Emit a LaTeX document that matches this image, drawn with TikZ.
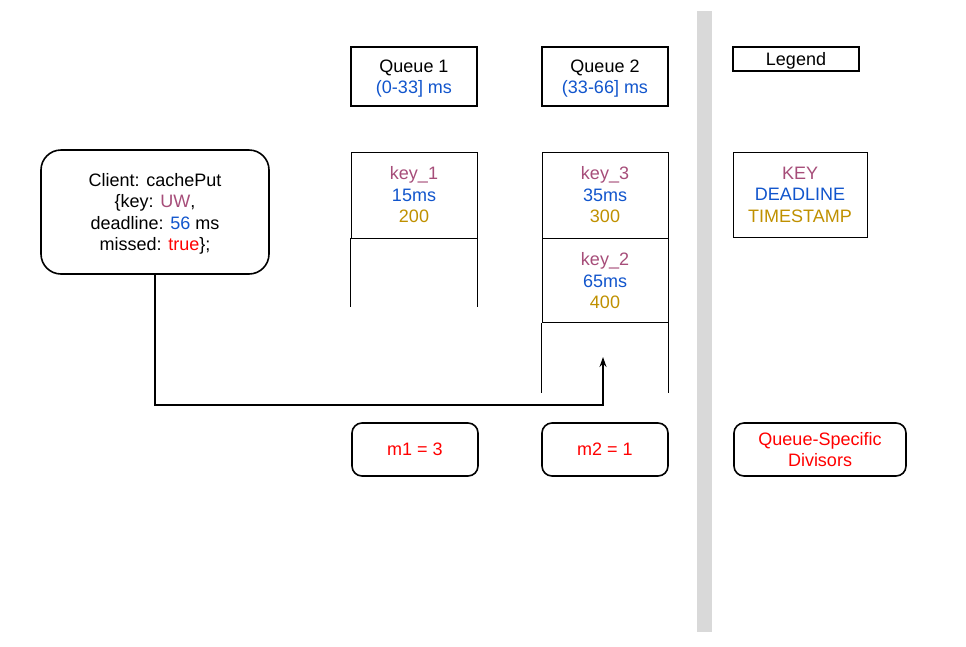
\documentclass[tikz,border=0pt]{standalone}
\usepackage{fontspec}
\setmainfont{Liberation Sans}
\usetikzlibrary{arrows.meta}
\definecolor{keyc}{HTML}{A64D79}
\definecolor{dlc}{HTML}{1155CC}
\definecolor{tsc}{HTML}{BF9000}
\definecolor{barc}{HTML}{D9D9D9}

\begin{document}
\begin{tikzpicture}[x=1pt,y=-1pt,
	every node/.style={font=\fontsize{18}{21.5}\selectfont, align=center, inner sep=0pt},
	hdr/.style={draw, line width=1.6pt, minimum width=126pt, minimum height=59pt, text depth=-2pt},
	cell/.style={draw, line width=0.9pt, minimum width=126pt, minimum height=86pt},
	divbox/.style={draw, line width=1.6pt, rounded corners=10pt, minimum width=126pt, minimum height=53pt, text=red}]
	\useasboundingbox (0,0) rectangle (966,646);
	\fill[barc] (697,11) rectangle (712,632);
	
	\node[draw, line width=1.6pt, rounded corners=20pt, minimum width=228pt, minimum height=124pt, text depth=-2pt] (client) at (155,212)
		{Client: cachePut\\\{key: \textcolor{keyc}{UW},\\deadline: \textcolor{dlc}{56} ms\\missed: \textcolor{red}{true}\};};
	
	\node[hdr] (q1) at (414,76.5) {Queue 1\\\textcolor{dlc}{(0-33] ms}};
	\node[hdr] (q2) at (605,76.5) {Queue 2\\\textcolor{dlc}{(33-66] ms}};
	
	\node[cell] (k1) at (414,195) {\textcolor{keyc}{key\_1}\\\textcolor{dlc}{15ms}\\\textcolor{tsc}{200}};
	\draw[line width=0.9pt] (k1.south west) -- ++(0,69);
	\draw[line width=0.9pt] (k1.south east) -- ++(0,69);
	
	\node[cell] (k3) at (605,195) {\textcolor{keyc}{key\_3}\\\textcolor{dlc}{35ms}\\\textcolor{tsc}{300}};
	\node[cell, minimum height=84pt, anchor=north] (k2) at (k3.south) {\textcolor{keyc}{key\_2}\\\textcolor{dlc}{65ms}\\\textcolor{tsc}{400}};
	\draw[line width=0.9pt] (k2.south west) -- ++(0,70);
	\draw[line width=0.9pt] (k2.south east) -- ++(0,70);
	
	\coordinate (slot) at (603,357);
	\draw[line width=1.6pt, -{Stealth[length=10pt,width=7pt]}] (client.south) -- ++(0,130) -| (slot);
	
	\node[divbox] (m1) at (415,449.5) {m1 = 3};
	\node[divbox] (m2) at (605,449.5) {m2 = 1};
	
	\node[draw, line width=1.6pt, minimum width=126pt, minimum height=24pt, text depth=-2pt] (legend) at (796,59) {Legend};
	\node[draw, line width=0.9pt, minimum width=134pt, minimum height=85pt] (fields) at (800,194.5)
		{\textcolor{keyc}{KEY}\\\textcolor{dlc}{DEADLINE}\\\textcolor{tsc}{TIMESTAMP}};
	\node[divbox, minimum width=172pt] (divlegend) at (820,449.5) {Queue-Specific\\Divisors};
\end{tikzpicture}
\end{document}
